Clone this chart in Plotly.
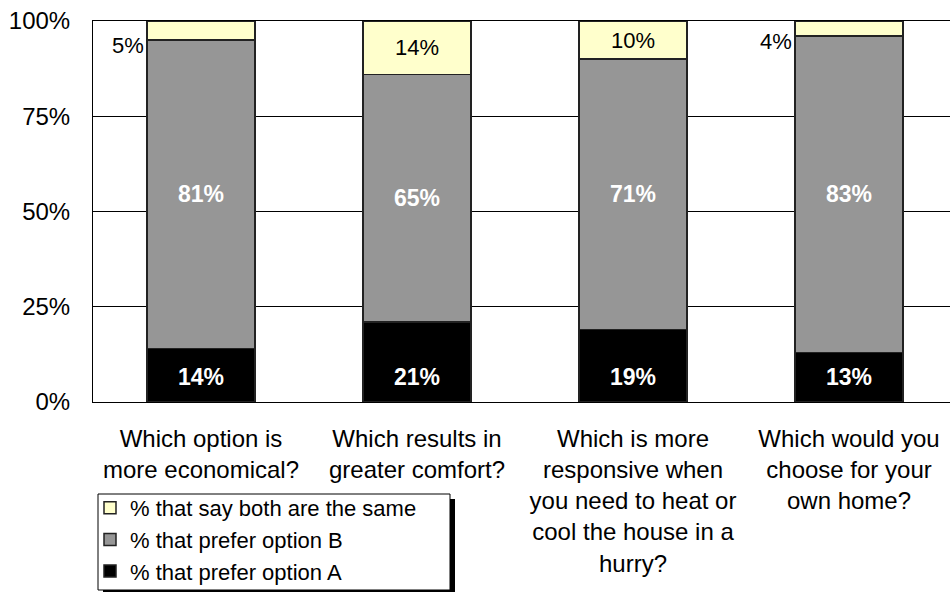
import plotly.graph_objects as go

# Survey questions (category axis)
questions = [
    "Which option is<br>more economical?",
    "Which results in<br>greater comfort?",
    "Which is more<br>responsive when<br>you need to heat or<br>cool the house in a<br>hurry?",
    "Which would you<br>choose for your<br>own home?",
]

# Percent of respondents per answer
prefer_a = [14, 21, 19, 13]
prefer_b = [81, 65, 71, 83]
both_same = [5, 14, 10, 4]

series_names = [
    "% that prefer option A",
    "% that prefer option B",
    "% that say both are the same",
]
series_colors = ["#000000", "#969696", "#FFFFCC"]

FONT = "Liberation Sans, Arial, sans-serif"
MIN_INSIDE = 8        # top segments smaller than this get their label beside the bar
A_LABEL_LEVEL = 0.065  # option-A labels sit on a common baseline near the axis

fig = go.Figure()

for name, vals, color in zip(series_names, [prefer_a, prefer_b, both_same], series_colors):
    is_top = vals is both_same
    if vals is prefer_a:
        labels = None  # written as annotations below
    else:
        labels = [f"{v}%" if v >= MIN_INSIDE else "" for v in vals]
    fig.add_trace(go.Bar(
        x=questions,
        y=[v / 100 for v in vals],
        name=name,
        width=0.5,
        marker=dict(color=color, line=dict(color="#222222", width=1.5)),
        text=labels,
        textposition="inside" if labels else "none",
        insidetextanchor="middle",
        textangle=0,
        constraintext="none",
        textfont=dict(
            family=FONT,
            size=22 if is_top else 23,
            color="black" if is_top else "white",
            weight="normal" if is_top else "bold",
        ),
        hoverinfo="skip",
    ))

# Option-A values in white bold along the bottom of each bar
for q, v in zip(questions, prefer_a):
    fig.add_annotation(
        x=q, y=A_LABEL_LEVEL, xref="x", yref="y",
        text=f"{v}%", showarrow=False,
        xanchor="center", yanchor="middle",
        font=dict(family=FONT, size=23, color="white", weight="bold"),
    )

# Small top segments: value written just left of the bar
for i, v in enumerate(both_same):
    if v < MIN_INSIDE:
        fig.add_annotation(
            x=i - 0.25, y=(100 - v) / 100,
            xref="x", yref="y",
            text=f"{v}%", showarrow=False,
            xanchor="right", yanchor="middle",
            xshift=-1, yshift=-5,
            font=dict(family=FONT, size=22, color="black"),
        )

# Page and plot-area geometry in pixels
W, H = 950, 592
PLOT_L, PLOT_T, PLOT_B = 93, 21, 402
PLOT_W, PLOT_H = W - PLOT_L, PLOT_B - PLOT_T


def px_x(x):
    return (x - PLOT_L) / PLOT_W


def px_y(y):
    return (PLOT_B - y) / PLOT_H


# Legend frame with a drop shadow
fig.add_shape(
    type="rect", xref="paper", yref="paper",
    x0=px_x(103), x1=px_x(455), y0=px_y(600), y1=px_y(499),
    fillcolor="black", line=dict(width=0), layer="above",
)
fig.add_shape(
    type="rect", xref="paper", yref="paper",
    x0=px_x(98), x1=px_x(450), y0=px_y(590), y1=px_y(494),
    fillcolor="white", line=dict(color="black", width=1), layer="above",
)

fig.update_layout(
    width=W, height=H,
    margin=dict(l=PLOT_L, r=0, t=PLOT_T, b=H - PLOT_B),
    barmode="stack",
    paper_bgcolor="white",
    plot_bgcolor="white",
    font=dict(family=FONT, size=22, color="black"),
    showlegend=True,
    legend=dict(
        xref="paper", yref="container",
        x=px_x(90), y=1 - 487 / H,
        xanchor="left", yanchor="top",
        traceorder="reversed",
        bgcolor="rgba(0,0,0,0)", borderwidth=0,
        font=dict(family=FONT, size=22, color="black"),
        itemwidth=30,
        tracegroupgap=0,
    ),
    xaxis=dict(
        range=[-0.5, -0.5 + PLOT_W / 216],
        showgrid=False,
        showline=True, linecolor="black", linewidth=1, mirror=True,
        ticks="", ticklabelstandoff=15, tickangle=0,
        tickfont=dict(family=FONT, size=24),
        automargin=False,
        fixedrange=True,
    ),
    yaxis=dict(
        range=[0, 1],
        tickvals=[0, 0.25, 0.5, 0.75, 1],
        tickformat=".0%",
        showgrid=True, gridcolor="black", gridwidth=1,
        showline=True, linecolor="black", linewidth=1,
        zeroline=False,
        ticks="", ticklabelstandoff=17,
        tickfont=dict(family=FONT, size=24),
        automargin=False,
        fixedrange=True,
    ),
)

fig.write_html("out.html")
